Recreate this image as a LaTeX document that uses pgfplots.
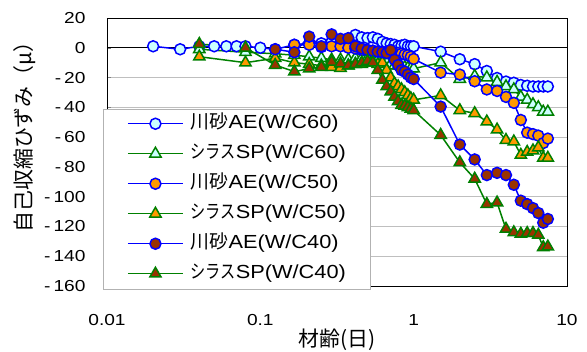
\documentclass[border=0pt]{standalone}
\usepackage{pgfplots}
\pgfplotsset{compat=1.18}
\usepackage{fontspec}
\usepackage{graphicx}
\setmainfont{Liberation Sans}
\newfontfamily\jp{Noto Sans CJK JP}
\newcommand{\sx}[1]{\scalebox{1.2}[1]{#1}}
\newcommand{\lx}[1]{\scalebox{1.15}[1]{#1}}
\newcommand{\shirasu}{\scalebox{0.8}[1]{\jp シラス}}
\newcommand{\kawasuna}{{\jp 川砂}}
\definecolor{lblue}{RGB}{0,0,255}
\definecolor{lgreen}{RGB}{0,128,0}
\definecolor{fcyan}{RGB}{204,255,255}
\definecolor{forange}{RGB}{255,153,0}
\definecolor{fbrown}{RGB}{153,51,0}
\newcommand{\negl}[1]{\sx{-\hspace{2.5bp}#1}}
\begin{document}
\begin{tikzpicture}
\useasboundingbox (-107bp,-66bp) rectangle (480bp,286bp);
\begin{axis}[
  scale only axis,
  width=460bp, height=268bp,
  xmode=log, log basis x=10,
  xmin=0.01, xmax=10,
  ymin=-160, ymax=20,
  xtick={0.01,0.1,1,10},
  xticklabels={\sx{0.01},\sx{0.1},\sx{1},\sx{10}},
  ytick={-160,-140,-120,-100,-80,-60,-40,-20,0,20},
  yticklabels={\negl{160},\negl{140},\negl{120},\negl{100},\negl{80},\negl{60},\negl{40},\negl{20},\sx{0},\sx{20}},
  minor xtick={},
  xtick style={draw=none},
  ytick pos=left,
  major tick length=4bp,
  ymajorgrids,
  grid style={gray!50, line width=0.8bp},
  axis line style={black, line width=0.8bp},
  tick label style={font=\fontsize{16}{19}\selectfont},
  xticklabel style={yshift=-25bp},
  yticklabel style={xshift=-18bp},
  /pgf/number format/assume math mode=true,
  xlabel={\jp 材齢(日)},
  ylabel={\jp 自己収縮ひずみ（μ）},
  label style={font=\fontsize{21}{24}\selectfont},
  xlabel style={at={(axis description cs:0.5,-0.2015)}, anchor=center},
  ylabel style={at={(axis description cs:-0.178,0.575)}, anchor=center},
  legend style={at={(axis description cs:-0.0087,-0.011)}, anchor=south west,
    draw=gray!60, fill=white, font=\fontsize{19}{22}\selectfont,
    nodes={inner sep=0bp, text height=14bp, text depth=4bp},
    row sep=12bp, column sep=7bp, inner xsep=24bp, inner ysep=6bp},
  legend cell align=left,
  legend image code/.code={
    \draw[mark repeat=2,mark phase=2,line width=1.5bp] plot coordinates {(0bp,0bp) (27.5bp,0bp) (55bp,0bp)};
  },
]
% zero line
\addplot[black, line width=0.8bp, forget plot] coordinates {(0.01,0) (10,0)};
\draw[black, line width=0.8bp] (axis cs:0.1,0) -- (axis cs:0.1,3.8);
\draw[black, line width=0.8bp] (axis cs:1,0) -- (axis cs:1,3.8);

% 1: AE W/C60
\addplot[lblue, line width=1.5bp, mark=*, mark size=5.5bp, mark options={fill=fcyan, draw=lblue, line width=1.5bp}] coordinates {
(0.02,1) (0.03,-1) (0.04,1) (0.05,1) (0.06,1) (0.07,1) (0.08,1) (0.1,0)
(0.125,-1) (0.1667,2) (0.2083,3) (0.25,3) (0.2917,4) (0.3333,3) (0.375,4)
(0.4167,8.6) (0.4583,7) (0.5,6.5) (0.5417,7) (0.5833,6) (0.625,4) (0.6667,3)
(0.7083,2.5) (0.75,2) (0.7917,1) (0.8333,1.5) (0.875,2) (0.9167,1) (0.9583,1) (1.0,1)
(1.5,-2.6) (2,-7.7) (2.5,-11) (3,-15.6) (3.5,-20.3) (4,-22.7) (4.5,-23.5) (5,-25)
(5.5,-25.5) (6,-26) (6.5,-26) (7,-26) (7.5,-26)
};
\addlegendentry{\kawasuna\lx{AE(W/C60)}}

% 2: SP W/C60
\addplot[lgreen, line width=1.5bp, mark=triangle*, mark size=6.5bp, mark options={fill=fcyan, draw=lgreen, line width=1.5bp}] coordinates {
(0.04,-1) (0.08,-3)
(0.125,-4) (0.1667,-5) (0.2083,-6) (0.25,-7) (0.2917,-8) (0.3333,-8) (0.375,-8)
(0.4167,-7) (0.4583,-7) (0.5,-7) (0.5417,-8) (0.5833,-8) (0.625,-9) (0.6667,-10)
(0.7083,-11) (0.75,-12) (0.7917,-12) (0.8333,-13) (0.875,-13) (0.9167,-13.5) (0.9583,-14) (1.0,-14)
(1.5,-10) (2,-21) (2.5,-19) (3,-20) (3.5,-23) (4,-26) (4.5,-28) (5,-33)
(5.5,-35) (6,-38) (6.5,-40) (7,-43) (7.5,-43)
};
\addlegendentry{\shirasu\lx{SP(W/C60)}}

% 3: AE W/C50
\addplot[lblue, line width=1.5bp, mark=*, mark size=5.5bp, mark options={fill=forange, draw=lblue, line width=1.5bp}] coordinates {
(0.1667,2) (0.2083,2) (0.25,0.5) (0.2917,1) (0.3333,1) (0.375,0)
(0.4167,-0.5) (0.4583,-1.5) (0.5,-1.5) (0.5417,-2) (0.5833,-2.5) (0.625,-2.6) (0.6667,-3)
(0.7083,-3) (0.75,-3.5) (0.7917,-3.5) (0.8333,-4) (0.875,-4.5) (0.9167,-5) (0.9583,-6) (1.0,-7.5)
(1.5,-16.7) (2,-18) (2.5,-22.5) (3,-28) (3.5,-29) (4,-33) (4.5,-37) (5,-48.5)
(5.5,-57) (6,-58) (6.5,-59) (7,-64) (7.5,-61)
};
\addlegendentry{\kawasuna\lx{AE(W/C50)}}

% 4: SP W/C50
\addplot[lgreen, line width=1.5bp, mark=triangle*, mark size=6.5bp, mark options={fill=forange, draw=lgreen, line width=1.5bp}] coordinates {
(0.04,-6) (0.08,-10)
(0.125,-7) (0.1667,-10) (0.2083,-11) (0.25,-12) (0.2917,-13) (0.3333,-13.6) (0.375,-12)
(0.4167,-11) (0.4583,-11) (0.5,-10) (0.5417,-10) (0.5833,-11) (0.625,-10) (0.6667,-15)
(0.7083,-20) (0.75,-24) (0.7917,-26) (0.8333,-28) (0.875,-30) (0.9167,-32) (0.9583,-34) (1.0,-35)
(1.5,-32) (2,-42) (2.5,-44) (3,-49.6) (3.5,-55) (4,-62) (4.5,-63) (5,-72)
(5.5,-70) (6,-69) (6.5,-67) (7,-74) (7.5,-74)
};
\addlegendentry{\shirasu\lx{SP(W/C50)}}

% 5: AE W/C40
\addplot[lblue, line width=1.5bp, mark=*, mark size=5.5bp, mark options={fill=fbrown, draw=lblue, line width=1.5bp}] coordinates {
(0.125,-1) (0.1667,-3) (0.2083,7.5) (0.25,1) (0.2917,9) (0.3333,6) (0.375,6.5)
(0.4167,1) (0.4583,-0.5) (0.5,-1.5) (0.5417,-2) (0.5833,-2.6) (0.625,-3) (0.6667,-3.6)
(0.7083,-1.5) (0.75,-8) (0.7917,-11.6) (0.8333,-15) (0.875,-16) (0.9167,-18) (0.9583,-20) (1.0,-21)
(1.5,-39.5) (2,-65) (2.5,-75) (3,-85.5) (3.5,-84) (4,-85.5) (4.5,-92) (5,-102.7)
(5.5,-105) (6,-107.7) (6.5,-111) (7,-117.5) (7.5,-115)
};
\addlegendentry{\kawasuna\lx{AE(W/C40)}}

% 6: SP W/C40
\addplot[lgreen, line width=1.5bp, mark=triangle*, mark size=6.5bp, mark options={fill=fbrown, draw=lgreen, line width=1.5bp}] coordinates {
(0.04,2.5) (0.08,0)
(0.125,-11.6) (0.1667,-16) (0.2083,-14) (0.25,-13) (0.2917,-9.5) (0.3333,-10.6) (0.375,-12)
(0.4167,-11) (0.4583,-10) (0.5,-9) (0.5417,-10) (0.5833,-15) (0.625,-21.6) (0.6667,-26)
(0.7083,-29.5) (0.75,-33) (0.7917,-36) (0.8333,-38.5) (0.875,-39) (0.9167,-40) (0.9583,-41) (1.0,-42)
(1.5,-58.6) (2,-77) (2.5,-88) (3,-105) (3.5,-104) (4,-121.7) (4.5,-124) (5,-125)
(5.5,-124.5) (6,-124.5) (6.5,-125.7) (7,-134) (7.5,-133.6)
};
\addlegendentry{\shirasu\lx{SP(W/C40)}}
\end{axis}
\end{tikzpicture}
\end{document}
